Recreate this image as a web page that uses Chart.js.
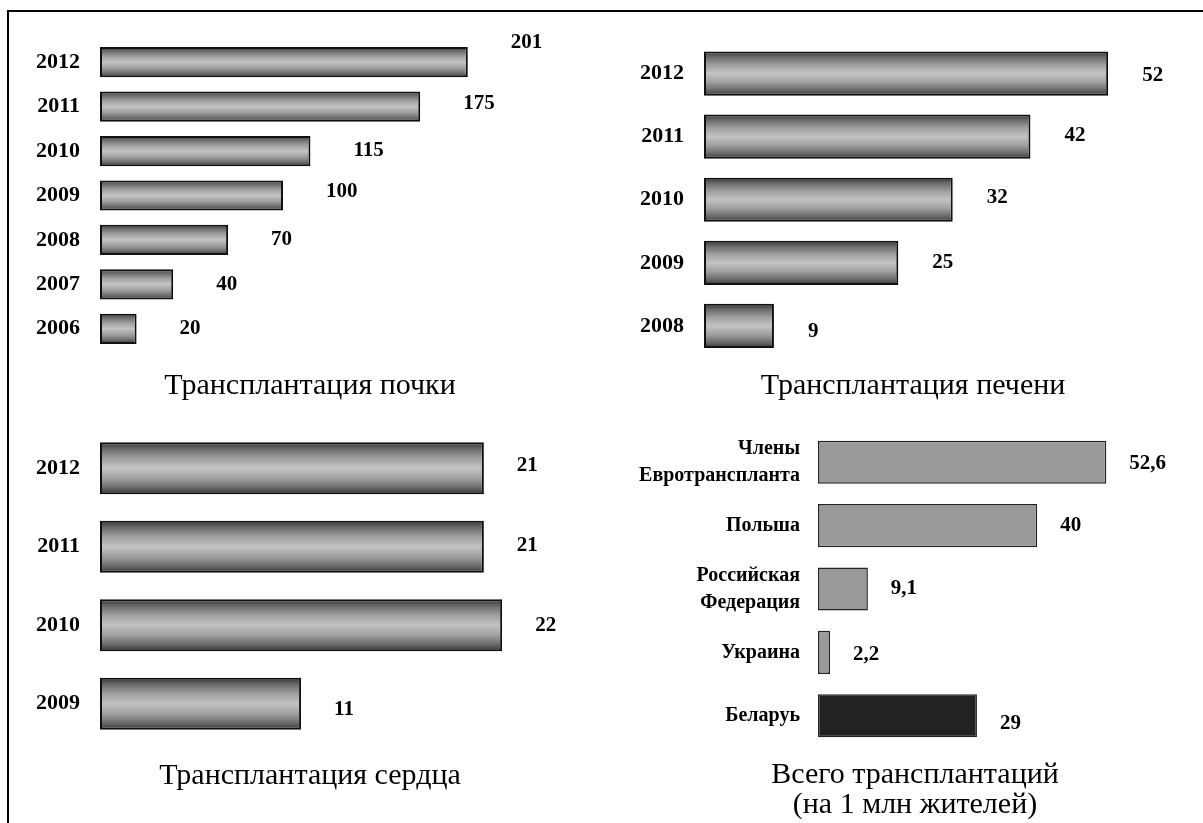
<!DOCTYPE html>
<html lang="ru">
<head>
<meta charset="utf-8">
<title>Трансплантация органов</title>
<script src="https://cdn.jsdelivr.net/npm/chart.js@4"></script>
<style>
  html, body { margin: 0; background: #fff; }
  body { width: 1203px; height: 823px; position: relative; overflow: hidden; }
  .frame { position: absolute; left: 7px; top: 10px; right: -5px; bottom: -5px; border-top: 2px solid #000; border-left: 2px solid #000; }
  .panel { position: absolute; }
</style>
</head>
<body>
<div class="frame"></div>
<div class="panel" style="left:10px;top:12px;width:600px;height:389px"><canvas id="kidney"></canvas></div>
<div class="panel" style="left:630px;top:12px;width:566px;height:389px"><canvas id="liver"></canvas></div>
<div class="panel" style="left:10px;top:415px;width:600px;height:376px"><canvas id="heart"></canvas></div>
<div class="panel" style="left:630px;top:415px;width:570px;height:405px"><canvas id="total"></canvas></div>

<script>
// data
const kidneyYears = ['2012', '2011', '2010', '2009', '2008', '2007', '2006'];
const kidneyValues = [201, 175, 115, 100, 70, 40, 20];

const liverYears = ['2012', '2011', '2010', '2009', '2008'];
const liverValues = [52, 42, 32, 25, 9];

const heartYears = ['2012', '2011', '2010', '2009'];
const heartValues = [21, 21, 22, 11];

const countries = [['Члены', 'Евротранспланта'], 'Польша', ['Российская', 'Федерация'], 'Украина', 'Беларуь'];
const totalValues = [52.6, 40, 9.1, 2.2, 29];

const serif = "'Liberation Serif', 'Times New Roman', serif";

// grey "cylinder" fill, shaded across the bar thickness
const cylinder = (pct) => (c) => {
  const chart = c.chart;
  const y = chart.scales.y;
  if (!chart.chartArea || !y || !y.ticks.length) return '#999';
  const mid = y.getPixelForValue(c.dataIndex);
  const half = (y.height / y.ticks.length) * pct / 2;
  const g = chart.ctx.createLinearGradient(0, mid - half, 0, mid + half);
  g.addColorStop(0, '#333333');
  g.addColorStop(0.12, '#686868');
  g.addColorStop(0.3, '#9e9e9e');
  g.addColorStop(0.5, '#c3c3c3');
  g.addColorStop(0.7, '#9e9e9e');
  g.addColorStop(0.88, '#686868');
  g.addColorStop(1, '#333333');
  return g;
};

// numbers to the right of the bars
const valueLabels = {
  id: 'valueLabels',
  afterDatasetsDraw(chart, args, opts) {
    const ctx = chart.ctx;
    const data = chart.data.datasets[0].data;
    ctx.save();
    ctx.font = `bold ${opts.size}px ${serif}`;
    ctx.fillStyle = '#000';
    ctx.textAlign = 'left';
    ctx.textBaseline = 'middle';
    chart.getDatasetMeta(0).data.forEach((bar, i) => {
      const dy = (opts.shift && opts.shift[i]) || 0;
      ctx.fillText(String(data[i]).replace('.', ','), bar.x + opts.gap, bar.y + dy);
    });
    ctx.restore();
  }
};

function makeChart(id, labels, values, cfg) {
  return new Chart(document.getElementById(id), {
    type: 'bar',
    data: {
      labels: labels,
      datasets: [{
        data: values,
        backgroundColor: cfg.fill,
        borderColor: cfg.stroke || '#111',
        borderWidth: cfg.border,
        borderSkipped: false,
        barPercentage: cfg.pct,
        categoryPercentage: 1
      }]
    },
    options: {
      indexAxis: 'y',
      responsive: true,
      maintainAspectRatio: false,
      animation: false,
      layout: { padding: cfg.padding },
      scales: {
        x: { display: false, min: 0, max: cfg.max },
        y: {
          grid: { display: false, drawTicks: false },
          border: { display: false },
          ticks: {
            color: '#000',
            padding: cfg.tickPad,
            font: { family: serif, size: cfg.tickSize, weight: 'bold', lineHeight: 1.35 }
          },
          afterFit: (axis) => {
            axis.width = cfg.axisWidth;
            axis.paddingTop = 0;
            axis.paddingBottom = 0;
          }
        }
      },
      plugins: {
        legend: { display: false },
        tooltip: { enabled: false },
        title: {
          display: true,
          position: 'bottom',
          text: cfg.title,
          color: '#000',
          font: { family: serif, size: 30, weight: 'normal', lineHeight: 1.0 },
          padding: { top: cfg.titleGap, bottom: 0 }
        },
        valueLabels: cfg.labels
      }
    },
    plugins: [valueLabels]
  });
}

makeChart('kidney', kidneyYears, kidneyValues, {
  fill: cylinder(0.68), border: 2, pct: 0.68, max: 278.7,
  padding: { top: 28, left: 0, right: 0, bottom: 0 },
  axisWidth: 90, tickPad: 20, tickSize: 22, titleGap: 20,
  title: 'Трансплантация почки',
  labels: { size: 21, gap: 43, shift: [-20, -3, 0, -4, 0, 0, 0] }
});

makeChart('liver', liverYears, liverValues, {
  fill: cylinder(0.7), border: 2, pct: 0.7, max: 63.3,
  padding: { top: 30, left: 0, right: 0, bottom: 0 },
  axisWidth: 74, tickPad: 20, tickSize: 22, titleGap: 13.5,
  title: 'Трансплантация печени',
  labels: { size: 21, gap: 34, shift: [2, -1, -2, 0, 6] }
});

makeChart('heart', heartYears, heartValues, {
  fill: cylinder(0.66), border: 2, pct: 0.66, max: 27.9,
  padding: { top: 14, left: 0, right: 0, bottom: 0 },
  axisWidth: 90, tickPad: 20, tickSize: 22, titleGap: 18,
  title: 'Трансплантация сердца',
  labels: { size: 21, gap: 33, shift: [-3, -1, 0, 6] }
});

makeChart('total', countries, totalValues, {
  fill: ['#999999', '#999999', '#999999', '#999999', '#222222'], stroke: '#222', border: 1.5,
  pct: 0.68, max: 69.7,
  padding: { top: 15.5, left: 0, right: 0, bottom: 0 },
  axisWidth: 188, tickPad: 18, tickSize: 20, titleGap: 12.5,
  title: ['Всего трансплантаций', '(на 1 млн жителей)'],
  labels: { size: 21, gap: 23, shift: [1, 0, 0, 2, 8] }
});
</script>
</body>
</html>
